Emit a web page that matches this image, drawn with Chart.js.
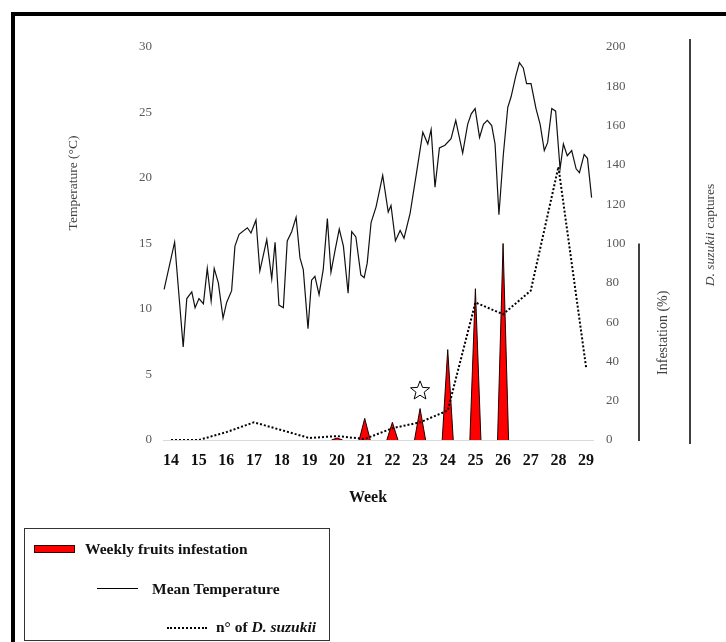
<!DOCTYPE html>
<html><head><meta charset="utf-8">
<script src="https://cdn.jsdelivr.net/npm/chart.js@4.4.1/dist/chart.umd.min.js"></script>
<style>
html,body{margin:0;padding:0;background:#fff;}
#wrap{position:relative;width:726px;height:642px;overflow:hidden;background:#fff;}
#c{position:absolute;left:0;top:0;}
#frame{position:absolute;left:11px;top:12px;width:800px;height:700px;border-left:4px solid #000;border-top:4px solid #000;pointer-events:none;}
#legend{position:absolute;left:24px;top:528px;width:304px;height:111px;border:1px solid #333;}
.lt{position:absolute;font-family:"Liberation Serif",serif;font-weight:bold;font-size:15.5px;color:#111;line-height:18px;white-space:nowrap;}
.sw{position:absolute;}
</style>
</head><body>
<div id="wrap">
<canvas id="c" width="726" height="642"></canvas>
<div id="frame"></div>
<div id="legend"></div>
<div class="sw" style="left:34px;top:545px;width:39px;height:6px;background:#ff0000;border:1px solid #300;"></div>
<div class="lt" style="left:85px;top:540px;">Weekly fruits infestation</div>
<div class="sw" style="left:97px;top:588px;width:41px;height:0;border-top:1.3px solid #000;"></div>
<div class="lt" style="left:152px;top:580px;">Mean Temperature</div>
<div class="sw" style="left:167px;top:627px;width:40px;height:0;border-top:2px dotted #000;"></div>
<div class="lt" style="left:216px;top:618px;">n° of <i>D. suzukii</i></div>
</div>
<script>
// ---- data ----
const weeks = [14,15,16,17,18,19,20,21,22,23,24,25,26,27,28,29];
const captures = [0,0,4,9,5,1,2,0.5,6,9,15,70,64,76,139,37];
const infestWeeks = [20,21,22,23,24,25,26];
const infestPct = [1,11,9,16,46,77,100];
const tempWeek = [13.75,14.13,14.44,14.57,14.75,14.87,15.01,15.17,15.31,15.45,15.56,15.71,15.88,16.01,16.19,16.31,16.46,16.76,16.89,17.07,17.21,17.46,17.64,17.76,17.90,18.06,18.20,18.36,18.52,18.66,18.78,18.95,19.08,19.20,19.35,19.50,19.65,19.78,19.93,20.08,20.23,20.40,20.53,20.68,20.86,20.98,21.09,21.23,21.41,21.65,21.85,21.95,22.11,22.28,22.42,22.64,22.88,23.10,23.28,23.40,23.54,23.70,23.90,24.12,24.29,24.54,24.72,24.85,24.99,25.15,25.29,25.43,25.59,25.71,25.85,26.01,26.17,26.29,26.46,26.59,26.73,26.85,27.01,27.19,27.34,27.49,27.61,27.76,27.90,28.06,28.18,28.32,28.48,28.64,28.76,28.93,29.05,29.20];
const tempValue = [11.5,15.1,7.1,10.8,11.3,10.1,10.8,10.4,13.1,10.6,13.1,12.0,9.3,10.5,11.4,14.8,15.7,16.2,15.8,16.8,12.9,15.3,12.3,15.1,10.3,10.1,15.2,15.9,17.0,13.9,13.0,8.5,12.2,12.5,11.1,13.0,16.9,12.8,14.5,16.1,14.8,11.2,15.9,15.5,12.6,12.4,13.5,16.6,17.8,20.2,17.4,17.9,15.2,16.0,15.4,17.3,20.5,23.5,22.6,23.7,19.3,22.3,22.5,23.0,24.4,21.9,24.1,24.9,25.3,23.1,24.1,24.4,24.0,22.6,17.2,21.8,25.4,26.2,27.8,28.8,28.4,27.2,27.2,25.3,24.1,22.1,22.7,25.3,25.1,20.7,22.6,21.7,22.1,20.7,20.4,21.8,21.5,18.5];
const tempTicks = [0,5,10,15,20,25,30];
const captureTicks = [0,20,40,60,80,100,120,140,160,180,200];
const starWeek = 23;
const starLevel = 25;

// ---- build ----
const HALF = 0.2;
const spikePts = [];
infestWeeks.forEach((w,i)=>{
  spikePts.push({x:w-HALF,y:0},{x:w,y:infestPct[i]},{x:w+HALF,y:0},{x:w+HALF+0.01,y:null});
});
const SERIF = '"Liberation Serif", "Times New Roman", serif';

const decor = {
  id:'decor',
  afterDraw(chart){
    const {ctx, chartArea:a, scales} = chart;
    const x = scales.x, yInf = scales.yInf;
    ctx.save();
    // left title
    ctx.fillStyle='#404040';
    ctx.font='13.5px '+SERIF;
    ctx.textAlign='center'; ctx.textBaseline='middle';
    ctx.save(); ctx.translate(73, a.top+136); ctx.rotate(-Math.PI/2);
    ctx.fillText('Temperature (°C)',0,0); ctx.restore();
    // x title
    ctx.fillStyle='#111';
    ctx.font='bold 16px '+SERIF;
    ctx.fillText('Week', a.left+205, a.bottom+58);
    // infestation axis line
    ctx.strokeStyle='#000'; ctx.lineWidth=1.5;
    const ix = a.right+46;
    ctx.beginPath(); ctx.moveTo(ix, yInf.getPixelForValue(100)); ctx.lineTo(ix, a.bottom+1); ctx.stroke();
    ctx.fillStyle='#404040'; ctx.font='14px '+SERIF;
    ctx.save(); ctx.translate(a.right+70, (yInf.getPixelForValue(100)+a.bottom)/2-9); ctx.rotate(-Math.PI/2);
    ctx.fillText('Infestation (%)',0,0); ctx.restore();
    // captures line
    const cx = a.right+97;
    ctx.beginPath(); ctx.moveTo(cx, a.top-8); ctx.lineTo(cx, a.bottom+4); ctx.stroke();
    ctx.save(); ctx.translate(a.right+117, a.top+188); ctx.rotate(-Math.PI/2);
    ctx.textAlign='left';
    ctx.font='italic 13.5px '+SERIF; const w1 = ctx.measureText('D. suzukii').width;
    ctx.font='13.5px '+SERIF; const w2 = ctx.measureText(' captures').width;
    const s = -(w1+w2)/2;
    ctx.font='italic 13.5px '+SERIF; ctx.fillText('D. suzukii', s, 0);
    ctx.font='13.5px '+SERIF; ctx.fillText(' captures', s+w1, 0);
    ctx.restore();
    // star
    const sx = x.getPixelForValue(starWeek), sy = yInf.getPixelForValue(starLevel);
    ctx.beginPath();
    for(let k=0;k<10;k++){
      const r = k%2===0 ? 10 : 4.3;
      const ang = -Math.PI/2 + k*Math.PI/5;
      const px = sx + r*Math.cos(ang), py = sy + r*Math.sin(ang);
      if(k===0) ctx.moveTo(px,py); else ctx.lineTo(px,py);
    }
    ctx.closePath();
    ctx.fillStyle='#fff'; ctx.fill();
    ctx.lineWidth=1; ctx.strokeStyle='#000'; ctx.stroke();
    ctx.restore();
  }
};

new Chart(document.getElementById('c'), {
  type:'line',
  data:{
    datasets:[
      {label:'n° of D. suzukii', data:weeks.map((w,i)=>({x:w,y:captures[i]})), yAxisID:'yC',
       borderColor:'#000', borderWidth:2, borderDash:[2,2], pointRadius:0, tension:0, fill:false},
      {label:'Mean Temperature', data:tempWeek.map((w,i)=>({x:w,y:tempValue[i]})), yAxisID:'yT',
       borderColor:'#111', borderWidth:1.2, pointRadius:0, tension:0, fill:false},
      {label:'Weekly fruits infestation', data:spikePts, yAxisID:'yInf',
       borderColor:'#1a0000', borderWidth:1, backgroundColor:'#ff0000', pointRadius:0, tension:0,
       fill:'origin', spanGaps:false}
    ]
  },
  options:{
    responsive:false, animation:false, devicePixelRatio:1,
    layout:{padding:{left:123,right:93,top:47,bottom:172}},
    plugins:{legend:{display:false}, tooltip:{enabled:false}},
    scales:{
      x:{type:'linear', min:13.71, max:29.25,
         afterBuildTicks:s=>{s.ticks = weeks.map(v=>({value:v}));},
         afterFit:s=>{s.height=30;},
         grid:{display:false, drawTicks:false},
         border:{display:true, color:'#d9d9d9', width:1},
         ticks:{padding:11, color:'#111', font:{family:SERIF, size:16, weight:'bold'}, maxRotation:0, autoSkip:false}},
      yT:{type:'linear', position:'left', min:0, max:30,
          afterBuildTicks:s=>{s.ticks = tempTicks.map(v=>({value:v}));},
          afterFit:s=>{s.width=40;},
          grid:{display:false, drawTicks:false}, border:{display:false},
          ticks:{padding:11, color:'#595959', font:{family:SERIF, size:13}}},
      yC:{type:'linear', position:'right', min:0, max:200,
          afterBuildTicks:s=>{s.ticks = captureTicks.map(v=>({value:v}));},
          afterFit:s=>{s.width=40;},
          grid:{display:false, drawTicks:false}, border:{display:false},
          ticks:{padding:13, color:'#595959', font:{family:SERIF, size:13}}},
      yInf:{type:'linear', display:false, min:0, max:200}
    }
  },
  plugins:[decor]
});
</script>
</body></html>
